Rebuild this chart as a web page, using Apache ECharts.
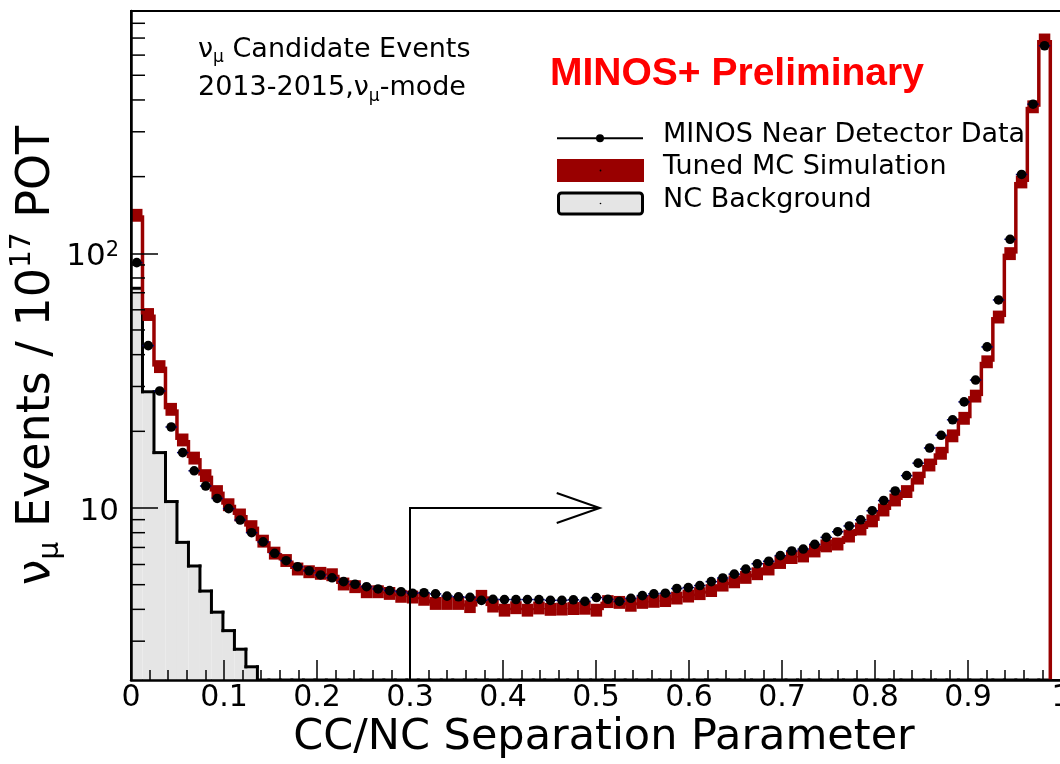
<!DOCTYPE html>
<html>
<head>
<meta charset="utf-8">
<script src="https://cdn.jsdelivr.net/npm/echarts@6/dist/echarts.min.js"></script>
<style>
  html, body { margin: 0; padding: 0; background: #ffffff; }
  #chart { width: 1060px; height: 764px; }
</style>
</head>
<body>
<div id="chart"></div>
<script>
// CC/NC separation parameter histogram: 80 equal bins from 0 to HIST_MAX
const BIN_COUNT = 80;
const HIST_MAX = 0.9885;

// MINOS Near Detector data, events per bin (per 1e17 POT)
const dataCounts = [
  91.9, 43.4, 28.8, 20.8, 16.5, 14.0, 12.2, 10.9, 9.94, 8.97,
  8.00, 7.36, 6.64, 6.21, 5.88, 5.67, 5.46, 5.32, 5.14, 5.02,
  4.91, 4.81, 4.74, 4.69, 4.63, 4.65, 4.60, 4.51, 4.48, 4.46,
  4.34, 4.38, 4.37, 4.37, 4.37, 4.37, 4.34, 4.34, 4.36, 4.30,
  4.45, 4.38, 4.30, 4.42, 4.53, 4.60, 4.63, 4.83, 4.87, 4.96,
  5.14, 5.31, 5.50, 5.76, 6.04, 6.18, 6.50, 6.78, 6.90, 7.20,
  7.67, 8.07, 8.50, 8.99, 9.76, 10.7, 11.66, 13.4, 15.0, 17.2,
  19.3, 22.2, 26.1, 31.8, 42.9, 65.6, 113.5, 204, 385, 653
];

// Tuned MC simulation, events per bin
const mcCounts = [
  141, 57.5, 35.9, 24.4, 18.5, 15.7, 13.4, 11.6, 10.3, 9.39,
  8.45, 7.41, 6.65, 6.22, 5.76, 5.62, 5.54, 5.47, 5.03, 4.91,
  4.69, 4.69, 4.62, 4.50, 4.47, 4.38, 4.22, 4.22, 4.22, 4.10,
  4.50, 4.12, 3.97, 4.06, 3.97, 4.05, 4.00, 4.01, 4.03, 4.04,
  3.97, 4.29, 4.26, 4.15, 4.26, 4.30, 4.33, 4.43, 4.51, 4.61,
  4.74, 4.98, 5.13, 5.34, 5.52, 5.76, 6.11, 6.39, 6.48, 6.78,
  7.10, 7.22, 7.76, 8.27, 8.90, 9.82, 10.75, 11.6, 13.1, 14.75,
  16.4, 19.2, 22.5, 27.5, 37.5, 56.2, 99.7, 190.6, 376, 688
];

// NC background, bins 0-10; the remaining bins lie below the axis floor
const ncCounts = [72.9, 28.6, 16.5, 10.6, 7.33, 5.92, 4.72, 3.90, 3.30, 2.79, 2.38];

// Relative size of the MC error boxes
const MC_REL_ERR = 0.06;

// Axis ranges and ticks
const X_RANGE = [0, 1];
const Y_RANGE = [2.112, 894];
const yMinorTicks = [3, 4, 5, 6, 7, 8, 9, 20, 30, 40, 50, 60, 70, 80, 90, 200, 300, 400, 500, 600, 700, 800];

// Selection cut arrow: [x start, height, x end]
const cutArrow = [0.3, 10, 0.504];

const legendLabels = ['MINOS Near Detector Data', 'Tuned MC Simulation', 'NC Background'];

const FONT = '"DejaVu Sans", sans-serif';
const MC_RED = '#990000';
const NC_GREY = '#e5e5e5';

const BIN_W = HIST_MAX / BIN_COUNT;
const binItems = Array.from({ length: BIN_COUNT }, (_, i) => [i * BIN_W, (i + 1) * BIN_W]);

function floorY(params) {
  return params.coordSys.y + params.coordSys.height;
}

function renderNC(params, api) {
  const i = params.dataIndex;
  const lo = api.value(0), hi = api.value(1);
  const xl = api.coord([lo, Y_RANGE[0]])[0];
  const xh = api.coord([hi, Y_RANGE[0]])[0];
  const yb = floorY(params);
  const v = i < ncCounts.length ? ncCounts[i] : null;
  const pv = i > 0 && i - 1 < ncCounts.length ? ncCounts[i - 1] : null;
  const yv = v == null ? yb : api.coord([lo, v])[1];
  const yp = pv == null ? yb : api.coord([lo, pv])[1];
  const edge = { stroke: '#000', lineWidth: 3, lineCap: 'square' };
  const children = [];
  if (v != null) {
    children.push({ type: 'rect', shape: { x: xl, y: yv, width: xh - xl, height: yb - yv }, style: { fill: NC_GREY } });
  }
  if (i > 0) children.push({ type: 'line', shape: { x1: xl, y1: yp, x2: xl, y2: yv }, style: edge });
  children.push({ type: 'line', shape: { x1: xl, y1: yv, x2: xh, y2: yv }, style: edge });
  return { type: 'group', children };
}

function renderMC(params, api) {
  const i = params.dataIndex;
  const lo = api.value(0), hi = api.value(1);
  const v = mcCounts[i];
  const pl = api.coord([lo, v]);
  const ph = api.coord([hi, v]);
  const yTop = api.coord([lo, v * (1 + MC_REL_ERR)])[1];
  const yBot = api.coord([lo, v / (1 + MC_REL_ERR)])[1];
  const yb = floorY(params);
  const stepStyle = { stroke: MC_RED, lineWidth: 3.5 };
  const children = [
    { type: 'rect', shape: { x: pl[0], y: yTop, width: ph[0] - pl[0], height: yBot - yTop }, style: { fill: MC_RED } }
  ];
  if (i > 0) {
    const yp = api.coord([lo, mcCounts[i - 1]])[1];
    children.push({ type: 'line', shape: { x1: pl[0], y1: yp, x2: pl[0], y2: pl[1] }, style: stepStyle });
  }
  if (i === mcCounts.length - 1) {
    children.push({ type: 'line', shape: { x1: ph[0], y1: ph[1], x2: ph[0], y2: yb }, style: stepStyle });
  }
  return { type: 'group', children };
}

function renderData(params, api) {
  const lo = api.value(0), hi = api.value(1), v = api.value(2);
  const pl = api.coord([lo, v]);
  const ph = api.coord([hi, v]);
  const c = api.coord([(lo + hi) / 2, v]);
  return {
    type: 'group',
    children: [
      { type: 'line', shape: { x1: pl[0], y1: pl[1], x2: ph[0], y2: ph[1] }, style: { stroke: '#000080', lineWidth: 1.5 } },
      { type: 'circle', shape: { cx: c[0], cy: c[1], r: 4.8 }, style: { fill: '#000' } }
    ]
  };
}

function renderMinorTick(params, api) {
  const p = api.coord([X_RANGE[0], api.value(1)]);
  return { type: 'line', shape: { x1: p[0], y1: p[1], x2: p[0] + 14, y2: p[1] }, style: { stroke: '#000', lineWidth: 1.5 } };
}

function renderArrow(params, api) {
  const x0 = api.value(0), h = api.value(1), x1 = api.value(2);
  const base = api.coord([x0, Y_RANGE[0]]);
  const corner = api.coord([x0, h]);
  const tip = api.coord([x1, h]);
  const s = { stroke: '#000', lineWidth: 2, fill: null };
  return {
    type: 'group',
    children: [
      { type: 'polyline', shape: { points: [base, corner, tip] }, style: s },
      { type: 'polyline', shape: { points: [[tip[0] - 43, tip[1] - 15], tip, [tip[0] - 43, tip[1] + 15]] }, style: s }
    ]
  };
}

const chart = echarts.init(document.getElementById('chart'), null, { renderer: 'canvas' });

chart.setOption({
  animation: false,
  backgroundColor: '#ffffff',
  grid: {
    left: 131, top: 11, width: 930, height: 669,
    show: true, borderColor: '#000', borderWidth: 2,
    containLabel: false, outerBoundsMode: 'none'
  },
  xAxis: {
    type: 'value',
    min: X_RANGE[0], max: X_RANGE[1], interval: 0.1,
    z: 10,
    axisLine: { show: true, onZero: false, lineStyle: { color: '#000', width: 2.5 } },
    axisTick: { show: true, inside: true, length: 20, lineStyle: { color: '#000', width: 1.5 } },
    minorTick: { show: true, splitNumber: 5, length: 10, lineStyle: { color: '#000', width: 1.5 } },
    splitLine: { show: false },
    axisLabel: {
      show: true, margin: 3, color: '#000', fontFamily: FONT, fontSize: 30, lineHeight: 30,
      showMinLabel: true, showMaxLabel: true, hideOverlap: false,
      formatter: v => (Math.abs(v) < 1e-9 ? '0' : Math.abs(v - 1) < 1e-9 ? '1' : v.toFixed(1))
    },
    name: 'CC/NC Separation Parameter',
    nameLocation: 'middle',
    nameGap: 36,
    nameMoveOverlap: false,
    nameTextStyle: { color: '#000', fontFamily: FONT, fontSize: 43, lineHeight: 43, padding: [0, 0, 0, 16] }
  },
  yAxis: {
    type: 'log', logBase: 10,
    min: Y_RANGE[0], max: Y_RANGE[1],
    z: 10,
    axisLine: { show: true, lineStyle: { color: '#000', width: 2.5 } },
    axisTick: { show: true, inside: true, length: 27, lineStyle: { color: '#000', width: 1.5 } },
    minorTick: { show: false },
    splitLine: { show: false },
    axisLabel: {
      show: true, margin: 12, color: '#000', fontFamily: FONT, fontSize: 31,
      showMinLabel: false, showMaxLabel: false, hideOverlap: false,
      padding: [8, 0, 0, 0],
      formatter: v => {
        const e = Math.round(Math.log10(v));
        if (Math.abs(Math.log10(v) - e) > 1e-6) return '';
        if (e === 1) return '{a|10}';
        return '{a|10}{s|' + e + '}';
      },
      rich: {
        a: { fontFamily: FONT, fontSize: 31, lineHeight: 34, color: '#000' },
        s: { fontFamily: FONT, fontSize: 21, lineHeight: 8, verticalAlign: 'top', color: '#000' }
      }
    },
    name: '{m|ν}{s|μ}{m| Events / 10}{p|17}{m| POT}',
    nameLocation: 'middle',
    nameGap: 66,
    nameMoveOverlap: false,
    nameTextStyle: {
      color: '#000', padding: [0, 20, 0, 0],
      rich: {
        m: { fontFamily: FONT, fontSize: 46, lineHeight: 56, color: '#000' },
        s: { fontFamily: FONT, fontSize: 28, lineHeight: 18, verticalAlign: 'bottom', color: '#000' },
        p: { fontFamily: FONT, fontSize: 28, lineHeight: 30, verticalAlign: 'top', color: '#000' }
      }
    }
  },
  graphic: [
    {
      type: 'text', x: 198, y: 50, z: 20,
      style: {
        text: '{m|ν}{s|μ}{m| Candidate Events}', verticalAlign: 'middle', fill: '#000',
        rich: {
          m: { fontFamily: FONT, fontSize: 27, lineHeight: 33, fill: '#000' },
          s: { fontFamily: FONT, fontSize: 17, lineHeight: 8, verticalAlign: 'bottom', fill: '#000' }
        }
      }
    },
    {
      type: 'text', x: 198, y: 88.3, z: 20,
      style: {
        text: '{m|2013-2015,ν}{s|μ}{m|-mode}', verticalAlign: 'middle', fill: '#000',
        rich: {
          m: { fontFamily: FONT, fontSize: 27, lineHeight: 33, fill: '#000' },
          s: { fontFamily: FONT, fontSize: 17, lineHeight: 8, verticalAlign: 'bottom', fill: '#000' }
        }
      }
    },
    {
      type: 'text', x: 550, y: 74.5, z: 20,
      style: {
        text: 'MINOS+ Preliminary', verticalAlign: 'middle', fill: '#ff0000',
        fontFamily: '"Liberation Sans", Arial, sans-serif', fontWeight: 'bold', fontSize: 39
      }
    },
    // legend keys
    { type: 'line', z: 20, shape: { x1: 557, y1: 138.3, x2: 643, y2: 138.3 }, style: { stroke: '#000', lineWidth: 2 } },
    { type: 'circle', z: 21, shape: { cx: 600, cy: 138.3, r: 4 }, style: { fill: '#000' } },
    { type: 'rect', z: 20, shape: { x: 557, y: 159, width: 87, height: 23 }, style: { fill: MC_RED } },
    { type: 'circle', z: 21, shape: { cx: 600.5, cy: 170.5, r: 0.9 }, style: { fill: '#000' } },
    { type: 'rect', z: 20, shape: { x: 558.5, y: 193, width: 84, height: 21, r: 3 }, style: { fill: NC_GREY, stroke: '#000', lineWidth: 3 } },
    { type: 'circle', z: 21, shape: { cx: 600.5, cy: 203.5, r: 0.8 }, style: { fill: '#000' } },
    { type: 'text', z: 20, x: 663, y: 135, style: { text: legendLabels[0], verticalAlign: 'middle', fill: '#000', fontFamily: FONT, fontSize: 27 } },
    { type: 'text', z: 20, x: 663, y: 166.7, style: { text: legendLabels[1], verticalAlign: 'middle', fill: '#000', fontFamily: FONT, fontSize: 27 } },
    { type: 'text', z: 20, x: 663, y: 200, style: { text: legendLabels[2], verticalAlign: 'middle', fill: '#000', fontFamily: FONT, fontSize: 27 } }
  ],
  series: [
    {
      name: legendLabels[2], type: 'custom', z: 1, clip: true,
      renderItem: renderNC,
      encode: { x: [0, 1] },
      data: binItems
    },
    {
      name: legendLabels[1], type: 'custom', z: 2, clip: true,
      renderItem: renderMC,
      encode: { x: [0, 1] },
      data: binItems
    },
    {
      name: 'cut', type: 'custom', z: 3, clip: true,
      renderItem: renderArrow,
      encode: { x: [0, 2], y: 1 },
      data: [cutArrow]
    },
    {
      name: legendLabels[0], type: 'custom', z: 4, clip: true,
      renderItem: renderData,
      encode: { x: [0, 1], y: 2 },
      data: dataCounts.map((v, i) => [binItems[i][0], binItems[i][1], v])
    },
    {
      name: 'y minor ticks', type: 'custom', z: 12, clip: false, silent: true,
      renderItem: renderMinorTick,
      encode: { x: 0, y: 1 },
      data: yMinorTicks.map(v => [X_RANGE[0], v])
    }
  ]
});
</script>
</body>
</html>
